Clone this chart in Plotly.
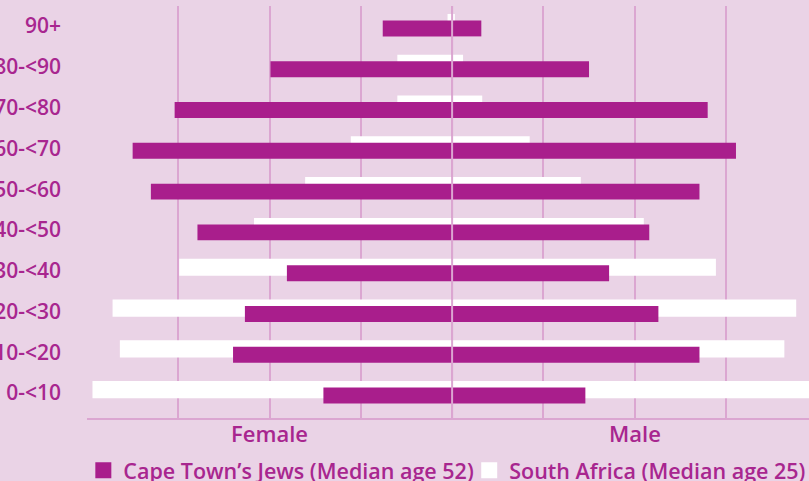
import plotly.graph_objects as go

# Age bands, bottom to top
age_groups = ["0-<10", "10-<20", "20-<30", "30-<40", "40-<50",
              "50-<60", "60-<70", "70-<80", "80-<90", "90+"]

# Share of population (one unit = one gridline step)
jews_female = [1.41, 2.40, 2.27, 1.81, 2.79, 3.30, 3.50, 3.04, 1.99, 0.76]
jews_male = [1.46, 2.71, 2.26, 1.72, 2.16, 2.71, 3.11, 2.80, 1.50, 0.32]
sa_female = [3.94, 3.64, 3.72, 2.99, 2.17, 1.61, 1.11, 0.60, 0.60, 0.05]
sa_male = [4.05, 3.64, 3.77, 2.89, 2.10, 1.41, 0.85, 0.33, 0.12, 0.03]

series_names = ["Cape Town\u2019s Jews (Median age 52)", "South Africa (Median age 25)"]
side_labels = ["Female", "Male"]

BG = "#ead3e6"
PURPLE = "#a91e8c"
TEXT = "#a8268f"
GRID = "#dba6d1"
FONT = "Open Sans"

fig = go.Figure()

# South Africa (white, slightly higher, behind)
for vals, sign in [(sa_female, -1), (sa_male, 1)]:
    fig.add_trace(go.Bar(
        x=[sign * v for v in vals], y=age_groups, orientation="h",
        marker=dict(color="white", line=dict(width=0)),
        width=0.42, offset=-0.125, showlegend=False, hoverinfo="skip",
    ))

# Cape Town's Jews (purple, in front)
for vals, sign in [(jews_female, -1), (jews_male, 1)]:
    fig.add_trace(go.Bar(
        x=[sign * v for v in vals], y=age_groups, orientation="h",
        marker=dict(color=PURPLE, line=dict(width=0)),
        width=0.39, offset=-0.255, showlegend=False, hoverinfo="skip",
    ))

# legend entries, one legend box each so they sit on one line
for name, color, lg in zip(series_names, [PURPLE, "white"], ["legend", "legend2"]):
    fig.add_trace(go.Scatter(
        x=[None], y=[None], mode="markers", name=name, legend=lg,
        marker=dict(symbol="square", size=18, color=color, line=dict(width=0)),
    ))

# centre line drawn over the bars
fig.add_shape(type="line", x0=0, x1=0, y0=0, y1=1, xref="x", yref="paper",
              line=dict(color=GRID, width=2), layer="above")

for label, xpos in zip(side_labels, [-2, 2]):
    fig.add_annotation(x=xpos, y=0.006, xref="x", yref="paper", text=label,
                       showarrow=False, yanchor="top",
                       font=dict(family=FONT, size=22, color=TEXT, weight=600))

legend_style = dict(orientation="h", xref="container", yref="paper",
                    y=-0.127, xanchor="left", yanchor="middle",
                    font=dict(family=FONT, size=21.5, color=TEXT, weight=600),
                    bgcolor="rgba(0,0,0,0)")

fig.update_layout(
    width=809, height=481,
    margin=dict(l=87, r=0, t=6, b=63, autoexpand=False),
    paper_bgcolor=BG, plot_bgcolor=BG,
    barmode="overlay",
    font=dict(family=FONT, color=TEXT, size=21),
    xaxis=dict(range=[-4, 3.91], dtick=1, tick0=0, showticklabels=False,
               showgrid=True, gridcolor=GRID, gridwidth=1.5, zeroline=False,
               showline=True, linecolor=GRID, linewidth=2, automargin=False),
    yaxis=dict(range=[-0.61, 9.49], showgrid=False, zeroline=False,
               showline=False, ticks="", ticklabelstandoff=25, automargin=False,
               tickfont=dict(family=FONT, size=21, color=TEXT, weight=600)),
    legend=dict(x=0.103, **legend_style),
    legend2=dict(x=0.58, **legend_style),
)

fig.write_html("out.html", config={"displayModeBar": False},
               post_script="document.body.style.margin='0';document.body.style.overflow='hidden';")
